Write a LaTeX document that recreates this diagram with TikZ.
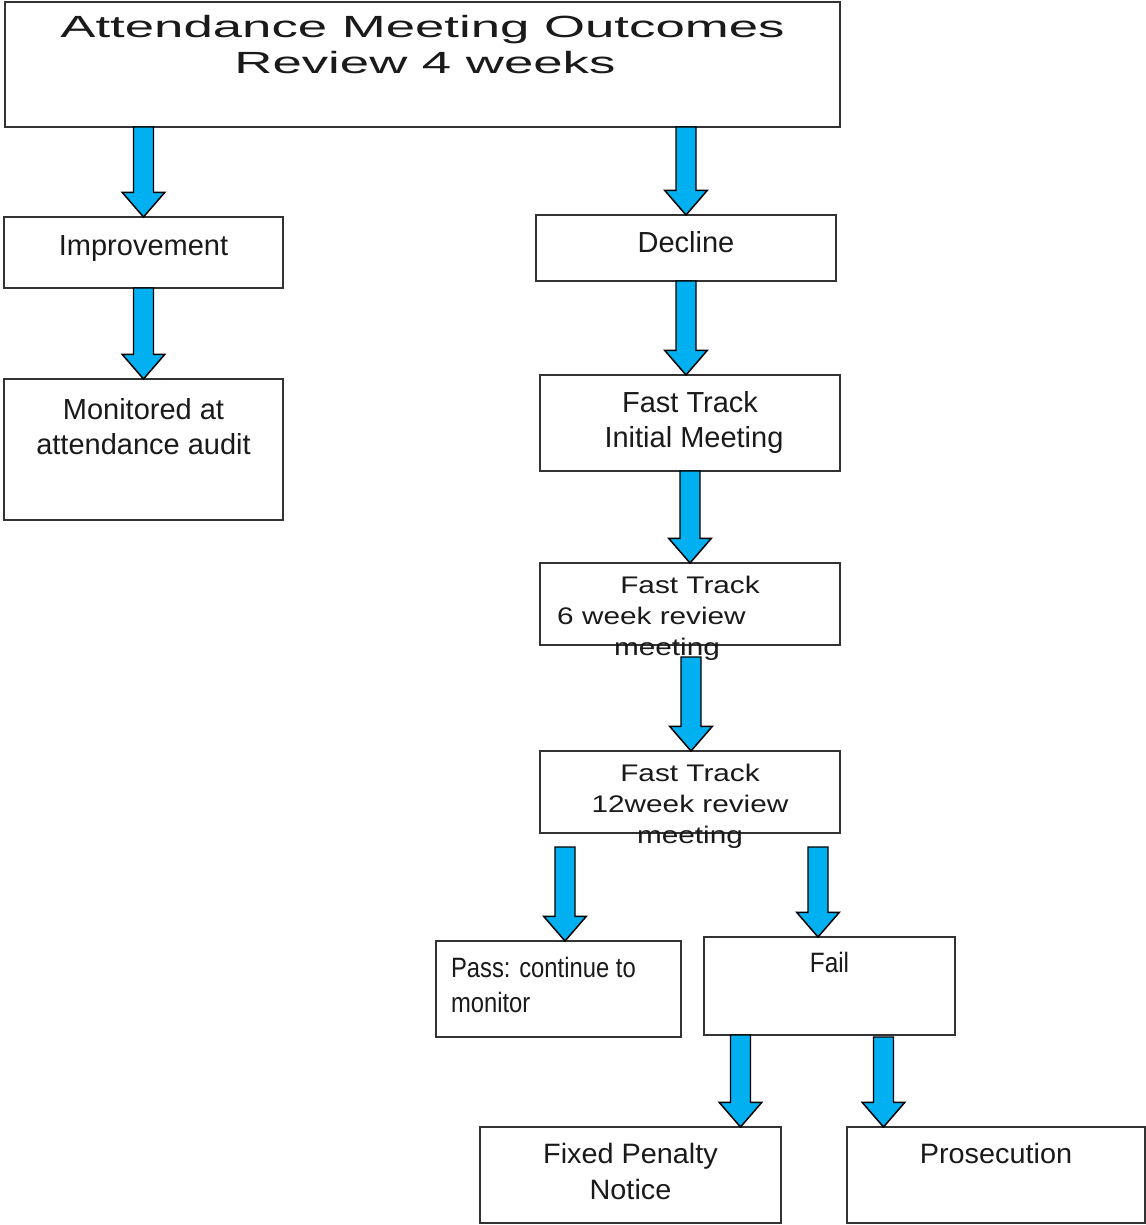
\documentclass[tikz,border=0pt]{standalone}
\usepackage{fontspec}
\setmainfont{Liberation Sans}
\usetikzlibrary{calc}
\definecolor{arrowblue}{HTML}{00B0F0}
\definecolor{boxgray}{HTML}{333333}
\definecolor{textgray}{HTML}{1A1A1A}
\newcommand{\barrow}[2]{%
  \path let \p1=#1, \p2=#2 in
  [draw=black, fill=arrowblue, line width=1.1pt, line join=miter]
  (\x2-7.5pt,\y1) -- (\x2+7.5pt,\y1) -- (\x2+7.5pt,\y2+18.5pt) -- (\x2+16pt,\y2+18.5pt)
  -- (\x2,\y2) -- (\x2-16pt,\y2+18.5pt) -- (\x2-7.5pt,\y2+18.5pt) -- cycle;}
\tikzset{
  box/.style={draw=boxgray, line width=1.5pt, fill=white, inner sep=0pt, outer sep=0pt},
  bw/.style={minimum width={#1*0.75pt}},
  bh/.style={minimum height={#1*0.75pt}},
  txt/.style={anchor=base, inner sep=0pt, outer sep=0pt, text=textgray},
  ttl/.style={txt, font=\fontsize{23}{27}\selectfont},
  nrm/.style={txt, font=\fontsize{21.75}{26}\selectfont},
  ftk/.style={txt, font=\fontsize{18}{22}\selectfont},
  nar/.style={txt, font=\fontsize{21}{25}\selectfont},
}
\begin{document}
\begin{tikzpicture}[x=0.75pt,y=-0.75pt]
\useasboundingbox (0,0) rectangle (1146,1225);
% boxes
\node[box, bw=835, bh=125, line width=1.9pt] (title) at (422.5,64.5) {};
\node[box, bw=279, bh=71] (imp) at (143.5,252.5) {};
\node[box, bw=300, bh=66] (dec) at (686,248) {};
\node[box, bw=279, bh=141] (mon) at (143.5,449.5) {};
\node[box, bw=300, bh=96] (fti) at (690,423) {};
\node[box, bw=300, bh=82] (w6) at (690,604) {};
\node[box, bw=300, bh=82] (w12) at (690,792) {};
\node[box, bw=245, bh=96] (pass) at (558.5,989) {};
\node[box, bw=251, bh=98] (fail) at (829.5,986) {};
\node[box, bw=301, bh=96] (fpn) at (630.5,1175) {};
\node[box, bw=298, bh=96] (pros) at (995.5,1175) {};
% texts
\node[ttl] (t1a) at (422.5,37) {\scalebox{1.72}[1]{Attendance Meeting Outcomes}};
\node[ttl] (t1b) at (425,73) {\scalebox{1.72}[1]{Review 4 weeks}};
\node[nrm] (t2) at (143.5,255) {Improvement};
\node[nrm] (t3) at (686,252) {Decline};
\node[nrm] (t4a) at (143.5,419) {Monitored at};
\node[nrm] (t4b) at (143.5,454) {attendance audit};
\node[nrm] (t5a) at (690,412) {Fast Track};
\node[nrm] (t5b) at (694,447) {Initial Meeting};
\node[ftk] (t6a) at (690,593) {\scalebox{1.24}[1]{Fast Track}};
\node[ftk] (t6b) at (651.5,624) {\scalebox{1.24}[1]{6 week review}};
\node[ftk] (t6c) at (667,655) {\scalebox{1.24}[1]{meeting}};
\node[ftk] (t7a) at (690,781) {\scalebox{1.24}[1]{Fast Track}};
\node[ftk] (t7b) at (690,812) {\scalebox{1.24}[1]{12week review}};
\node[ftk] (t7c) at (690,843) {\scalebox{1.24}[1]{meeting}};
\node[nar, anchor=base west] (t8a) at (451,977) {\scalebox{0.85}[1]{Pass: continue to}};
\node[nar, anchor=base west] (t8b) at (451,1012) {\scalebox{0.85}[1]{monitor}};
\node[nar] (t9) at (829.5,972) {\scalebox{0.87}[1]{Fail}};
\node[nar] (t10a) at (630.5,1163) {\scalebox{1.03}[1]{Fixed Penalty}};
\node[nar] (t10b) at (630.5,1199) {\scalebox{1.03}[1]{Notice}};
\node[nar] (t11) at (996,1163) {\scalebox{1.03}[1]{Prosecution}};
% connector anchors
\coordinate (a6) at (691,657);
\coordinate (a7) at (565,847);
\coordinate (a8) at (818,847);
\coordinate (a9) at (740.5,1035);
\coordinate (a10) at (883.5,1037);
% block arrows
\barrow{(imp.north |- title.south)}{(imp.north)}
\barrow{(dec.north |- title.south)}{(dec.north)}
\barrow{(imp.south)}{(mon.north)}
\barrow{(dec.south)}{(dec.south |- fti.north)}
\barrow{(fti.south)}{(w6.north)}
\barrow{(a6)}{(a6 |- w12.north)}
\barrow{(a7)}{(a7 |- pass.north)}
\barrow{(a8)}{(a8 |- fail.north)}
\barrow{(a9)}{(a9 |- fpn.north)}
\barrow{(a10)}{(a10 |- pros.north)}
\end{tikzpicture}
\end{document}
